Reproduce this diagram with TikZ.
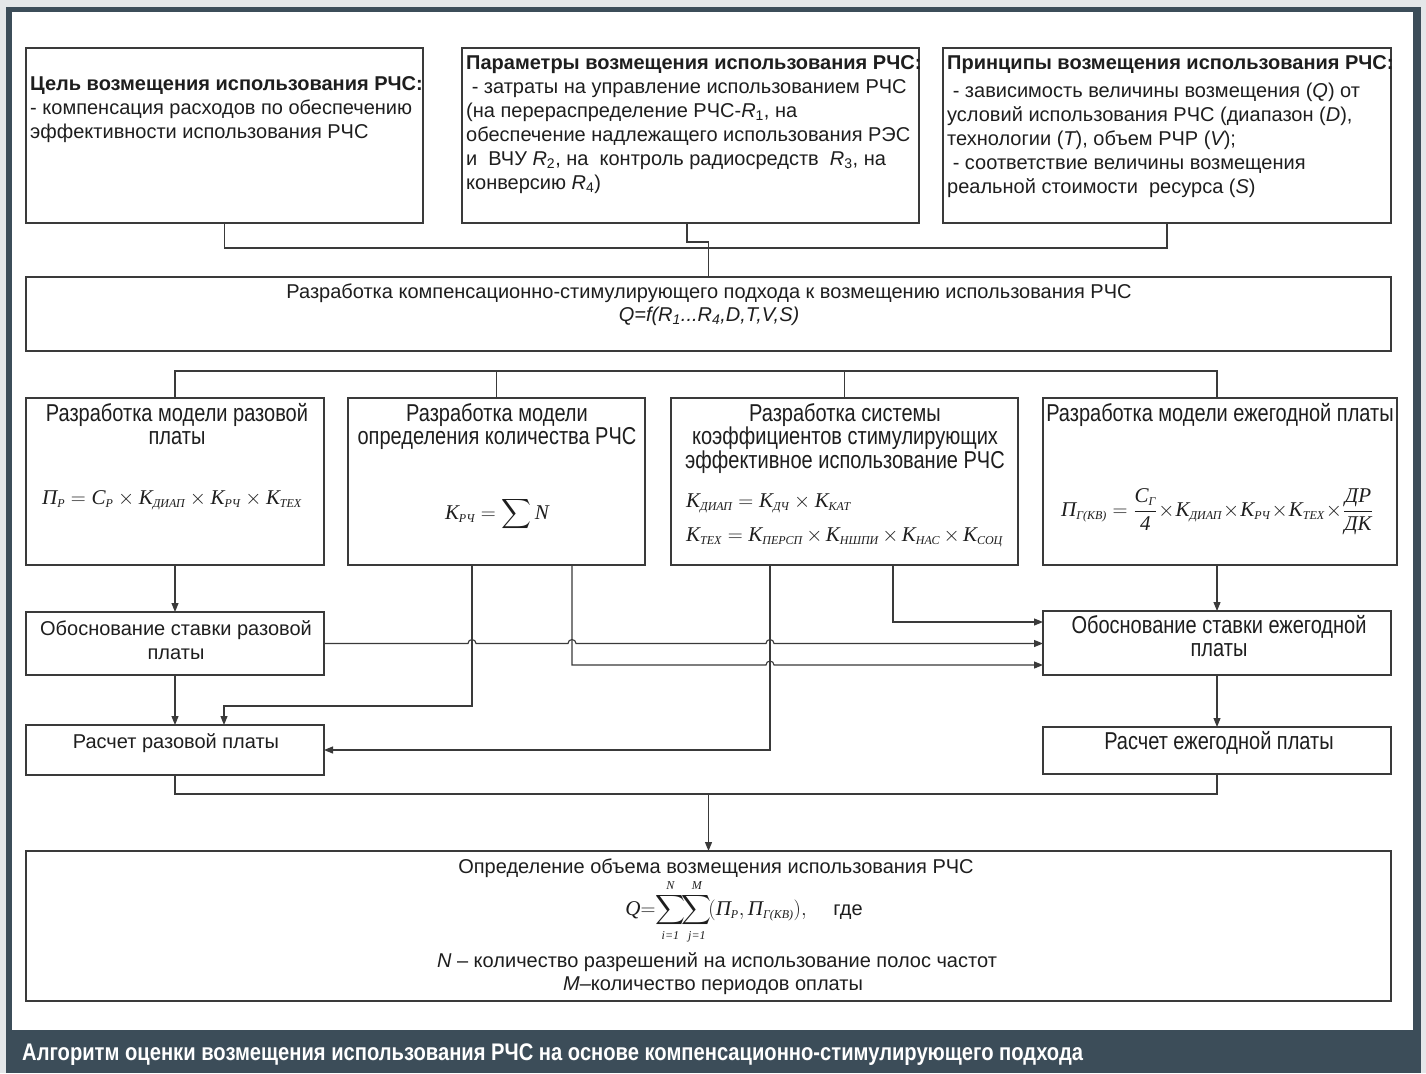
\documentclass[tikz,border=0pt]{standalone}
\usepackage{amsmath}
\usepackage{fontspec}
\setmainfont{Liberation Sans}
\newfontfamily\nar[FakeStretch=0.82]{Liberation Sans}
\newfontfamily\capf[FakeStretch=0.84]{Liberation Sans}
\newfontfamily\fml{Liberation Serif}
\usetikzlibrary{arrows.meta,calc}
\definecolor{linec}{HTML}{3A3A3A}
\definecolor{txtc}{HTML}{1E1E1E}
\definecolor{framec}{HTML}{3C4D59}
\definecolor{outc}{HTML}{E4E7E9}
% italic serif letters for formulas
\newcommand{\cyi}[1]{\text{\fml\itshape #1}}
\newcommand{\cs}[1]{\text{\fontsize{12}{12}\selectfont\fml\itshape #1}}
\begin{document}
\begin{tikzpicture}[x=1pt,y=-1pt,
  box/.style={draw=linec, line width=1.1pt, inner sep=0pt, outer sep=0pt, anchor=north west},
  ln/.style={draw=linec, line width=1.1pt},
  arr/.style={ln, -{Triangle[length=9pt,width=7pt]}},
  txt/.style={inner sep=0pt, text=txtc, font=\fontsize{20}{24}\selectfont},
  ntxt/.style={txt, font=\fontsize{24.4}{23.5}\selectfont\nar},
  fm/.style={inner sep=0pt, text=txtc, font=\fontsize{21}{24}\selectfont\fml\itshape}]
\useasboundingbox (0,0) rectangle (1426,1073);
% page frame
\fill[outc] (0,0) rectangle (1426,1073);
\fill[framec] (6,7) rectangle (1421,1073);
\fill[white] (12,12) rectangle (1413,1030);

% ---- top row ----
\node[box, minimum width=397pt, minimum height=175pt] (b1) at (26,48) {};
\node[box, minimum width=457pt, minimum height=175pt] (b2) at (462,48) {};
\node[box, minimum width=448pt, minimum height=175pt] (b3) at (943,48) {};

\node[txt, anchor=north west, align=left] (t1) at (30,76)
  {\textbf{Цель возмещения использования РЧС:}\\- компенсация расходов по обеспечению\\эффективности использования РЧС};
\node[txt, anchor=north west, align=left] (t2) at (466,55)
  {\textbf{Параметры возмещения использования РЧС:}\\
   \ - затраты на управление использованием РЧС\\
   (на перераспределение РЧС-{\itshape R}\textsubscript{1}, на\\
   обеспечение надлежащего использования РЭС\\
   и\ \ ВЧУ {\itshape R}\textsubscript{2}, на\ \ контроль радиосредств\ \ {\itshape R}\textsubscript{3}, на\\
   конверсию {\itshape R}\textsubscript{4})};
\node[txt, anchor=north west, align=left] (t3) at (947,55)
  {\textbf{Принципы возмещения использования РЧС:}\\[4pt]
   \ - зависимость величины возмещения ({\itshape Q}) от\\
   условий использования РЧС (диапазон ({\itshape D}),\\
   технологии ({\itshape T}), объем РЧР ({\itshape V});\\
   \ - соответствие величины возмещения\\
   реальной стоимости\ \ ресурса ({\itshape S})};

% ---- approach box ----
\node[box, minimum width=1365pt, minimum height=74pt] (c) at (26,277) {};
\node[txt, anchor=north] (tc) at (709,284)
  {Разработка компенсационно-стимулирующего подхода к возмещению использования РЧС};
\node[txt, anchor=north] (tq) at (709,307)
  {\itshape Q=f(R\textsubscript{1}...R\textsubscript{4},D,T,V,S)};

\coordinate (jt) at ($(c.north)+(0,-29)$);
\draw[ln] (b1.south) |- (jt);
\draw[ln] (b3.south) |- (jt);
\draw[ln] ($(b2.south)+(-3.5,0)$) |- ($(c.north)+(0,-35)$) -- (c.north);

% ---- models row ----
\node[box, minimum width=298pt, minimum height=167pt] (d1) at (26,398) {};
\node[box, minimum width=297pt, minimum height=167pt] (d2) at (348,398) {};
\node[box, minimum width=347pt, minimum height=167pt] (d3) at (671,398) {};
\node[box, minimum width=354pt, minimum height=167pt] (d4) at (1043,398) {};

\draw[ln] (d1.north) -- ++(0,-27) -| ($(d4.north)+(-3,0)$);
\draw[ln] (d2.north) -- ++(0,-27);
\draw[ln] (d3.north) -- ++(0,-27);

\node[ntxt, anchor=north, align=center] (td1) at (177,403) {Разработка модели разовой\\платы};
\node[ntxt, anchor=north, align=center] (td2) at (497,403) {Разработка модели\\определения количества РЧС};
\node[ntxt, anchor=north, align=center] (td3) at (845,403) {Разработка системы\\коэффициентов стимулирующих\\эффективное использование РЧС};
\node[ntxt, anchor=north] (td4) at (1220,403) {Разработка модели ежегодной платы};

\node[fm] (fd1) at (172,500)
  {$\cyi{П}_{\cs{Р}} = \cyi{С}_{\cs{Р}} \times \cyi{К}_{\cs{ДИАП}} \times \cyi{К}_{\cs{РЧ}} \times \cyi{К}_{\cs{ТЕХ}}$};
\node[fm] (fd2) at (497,514)
  {$\cyi{К}_{\cs{РЧ}} = \displaystyle\sum \cyi{N}$};
\node[fm, anchor=base west] (fd3a) at (686,507)
  {$\cyi{К}_{\cs{ДИАП}} = \cyi{К}_{\cs{ДЧ}} \times \cyi{К}_{\cs{КАТ}}$};
\node[fm, anchor=base west] (fd3b) at (686,541)
  {$\cyi{К}_{\cs{ТЕХ}} = \cyi{К}_{\cs{ПЕРСП}}\,{\times}\,\cyi{К}_{\cs{НШПИ}}\,{\times}\,\cyi{К}_{\cs{НАС}}\,{\times}\,\cyi{К}_{\cs{СОЦ}}$};
\node[fm] (fd4) at (1217,512)
  {$\cyi{П}_{\cs{Г(КВ)}} = \dfrac{\cyi{С}_{\cs{Г}}}{\cyi{4}}\!\times\!\cyi{К}_{\cs{ДИАП}}\!\times\!\cyi{К}_{\cs{РЧ}}\!\times\!\cyi{К}_{\cs{ТЕХ}}\!\times\!\dfrac{\cyi{ДР}}{\cyi{ДК}}$};

% ---- rate and payment boxes ----
\node[box, minimum width=298pt, minimum height=63pt] (e1) at (26,612) {};
\node[box, minimum width=348pt, minimum height=64pt] (e2) at (1043,611) {};
\node[box, minimum width=298pt, minimum height=50pt] (f1) at (26,725) {};
\node[box, minimum width=348pt, minimum height=47pt] (f2) at (1043,727) {};

\node[txt, anchor=north, align=center] (te1) at (176,620) {Обоснование ставки разовой\\платы};
\node[ntxt, anchor=north, align=center] (te2) at (1219,615) {Обоснование ставки ежегодной\\платы};
\node[txt, anchor=north] (tf1) at (176,733) {Расчет разовой платы};
\node[ntxt, anchor=north] (tf2) at (1219,731) {Расчет ежегодной платы};

% ---- connectors between the middle boxes ----
\coordinate (v1) at ($(d2.south)+(-24.5,0)$);
\coordinate (v2) at ($(d2.south)+(75.5,0)$);
\coordinate (v3) at ($(d3.south)+(-74.5,0)$);
\coordinate (v4) at ($(d3.south)+(48.5,0)$);

\draw[arr] (d1.south) -- (e1.north);
\draw[arr] (e1.south) -- (f1.north);
\draw[arr] (d4.south -| e2.north) -- (e2.north);
\draw[arr] (e2.south) -- (f2.north);

\draw[arr] (v1) |- ($(f1.north)+(49,-19)$) -- ($(f1.north)+(49,0)$);
\draw[arr] (v3) |- (f1.east);
\draw[arr] (v4) |- ($(e2.west)+(0,-21)$);
\draw[arr] (e1.east)
  -- ($(v1 |- e1.east)+(-4,0)$) arc[start angle=180,end angle=0,radius=4pt]
  -- ($(v2 |- e1.east)+(-4,0)$) arc[start angle=180,end angle=0,radius=4pt]
  -- ($(v3 |- e1.east)+(-4,0)$) arc[start angle=180,end angle=0,radius=4pt]
  -- (e1.east -| e2.west);
\draw[arr] (v2) -- ($(v2 |- e2.west)+(0,22)$)
  -- ($(v3 |- e2.west)+(-4,22)$) arc[start angle=180,end angle=0,radius=4pt]
  -- ($(e2.west)+(0,22)$);

% ---- result box ----
\node[box, minimum width=1365pt, minimum height=150pt] (g) at (26,851) {};
\coordinate (jb) at ($(g.north)+(0,-57)$);
\draw[ln] (f1.south) |- (jb);
\draw[ln] (f2.south) |- (jb);
\draw[arr] (jb) -- (g.north);

\node[txt, anchor=north] (tg1) at (716,859) {Определение объема возмещения использования РЧС};
\node[inner sep=0pt, text=txtc, font=\fontsize{21}{24}\selectfont] (tg2) at (744,912)
  {$\displaystyle \cyi{Q}{=}\!\sum_{\cs{i=1}}^{\cs{N}}\!\!\sum_{\cs{j=1}}^{\cs{M}}\!(\cyi{П}_{\cs{Р}},\cyi{П}_{\cs{Г(КВ)}}),$\quad\ {\fontsize{20}{24}\selectfont где}};
\node[txt, anchor=north] (tg3) at (717,952) {{\itshape N} -- количество разрешений на использование полос частот};
\node[txt, anchor=north] (tg4) at (713,977) {{\itshape M}--количество периодов оплаты};

% ---- caption ----
\node[inner sep=0pt, anchor=west, text=white, font=\fontsize{24}{26}\selectfont\capf\bfseries] (cap) at (22,1055)
  {Алгоритм оценки возмещения использования РЧС на основе компенсационно-стимулирующего подхода};
\end{tikzpicture}
\end{document}
